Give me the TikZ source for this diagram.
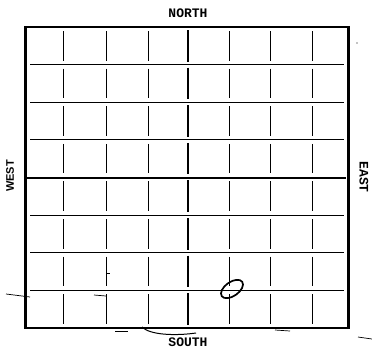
\documentclass[tikz,border=0pt]{standalone}
\usepackage{fontspec}
\newfontfamily\typefont{Liberation Mono}
\newfontfamily\labelfont{Liberation Sans}
\usetikzlibrary{shapes.geometric}

\tikzset{
  gridline/.style={line width=1pt},
  midline/.style={line width=2pt},
  edgeline/.style={line width=3pt},
  stray/.style={line width=0.7pt},
  compass/.style={font=\typefont\bfseries\fontsize{13}{13}\selectfont, inner sep=0pt}
}

\begin{document}
\begin{tikzpicture}[x=1pt,y=-1pt]
\useasboundingbox (0,0) rectangle (372,351);
% frame
\draw[edgeline] (25,26) -- (25,329);
\draw[edgeline] (348,26) -- (348,329);
\draw[line width=2.4pt] (25,27) -- (348,27);
\draw[line width=2.4pt] (25,328) -- (348,328);
% horizontal lines
\foreach \y in {64.5,102.5,139.5,215.5,252.5,290.5}
  \draw[gridline] (30,\y) -- (344,\y);
\draw[midline] (27,177.5) -- (346,177.5);
% vertical lines, broken at every row
\foreach \x in {63,106,148,229,270,312}
  \foreach \ya/\yb in {27/64.6,64.6/102.2,102.2/139.8,139.8/177.4,177.4/215,215/252.6,252.6/290.2,290.2/327.8}
    \draw[gridline] (\x,\ya+4) -- (\x,\yb-4);
\foreach \ya/\yb in {27/64.6,64.6/102.2,102.2/139.8,139.8/177.4,177.4/215,215/252.6,252.6/290.2,290.2/327.8}
  \draw[midline] (188,\ya+3) -- (188,\yb-3);
% labels
\node[compass] (north) at (188,13) {NORTH};
\node[compass] (south) at (188,342) {SOUTH};
\node[compass, rotate=-90] (east) at (364,177) {EAST};
\node[font=\labelfont\bfseries\fontsize{11}{11}\selectfont, inner sep=0pt, rotate=90] (west) at (10,176) {WEST};
% circled spot
\node[draw, ellipse, line width=1.7pt, minimum width=25pt, minimum height=14pt, rotate=35] (spot) at (232,289) {};
% stray marks
\draw[stray] (6,294) -- (30,297);
\draw[stray] (94,295) -- (106,296);
\draw[stray] (106,273) -- (110,273);
\draw[stray] (358,337) -- (372,339);
\draw[line width=1pt] (142,327) .. controls (150,335) and (175,336) .. (196,333);
\draw[stray] (115,331) -- (128,331);
\draw[stray] (275,330) -- (290,331);
\fill (357,43) circle (0.7);
\end{tikzpicture}
\end{document}
